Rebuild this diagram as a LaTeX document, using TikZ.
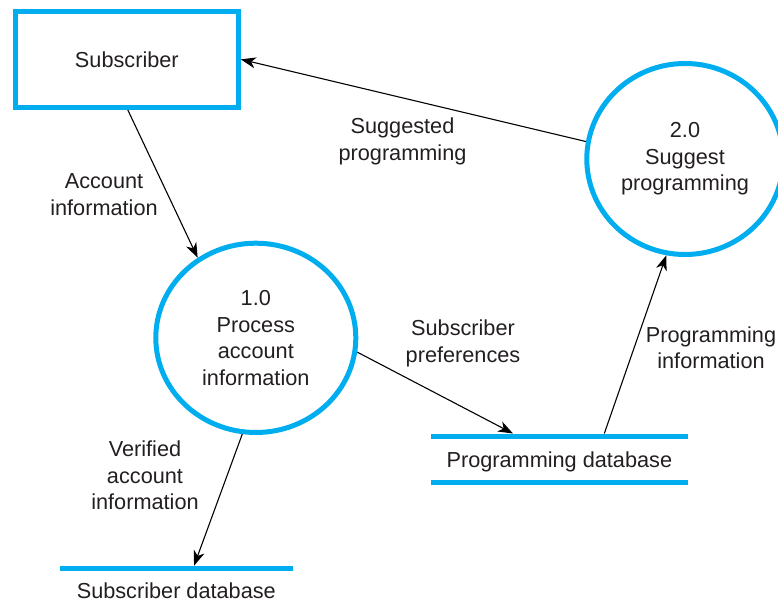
\documentclass[tikz,border=0pt]{standalone}
\usepackage{fontspec}
\setmainfont{Liberation Sans}
\usetikzlibrary{shapes.geometric,arrows.meta}
\definecolor{dfdblue}{HTML}{00AEEF}
\definecolor{inkgray}{HTML}{231F20}
\begin{document}
\begin{tikzpicture}[x=1pt,y=1pt,
  every node/.style={text=inkgray,font=\fontsize{21.7}{26.5}\selectfont,align=center,inner sep=0pt},
  entity/.style={draw=dfdblue,line width=5pt,rectangle},
  process/.style={draw=dfdblue,line width=5pt,ellipse},
  storeline/.style={draw=dfdblue,line width=5pt},
  flow/.style={draw=black,line width=1.1pt,-{Stealth[length=15pt,width=11pt,inset=4.5pt]}}]
\useasboundingbox (0,0) rectangle (778,611);

% external entity
\node[entity,minimum width=223pt,minimum height=96.3pt] (sub) at (126.85,551.65) {Subscriber};

% processes
\node[process,minimum width=200pt,minimum height=189.3pt] (p1) at (255.8,273.15)
  {1.0\\Process\\account\\information};
\node[process,minimum width=196.4pt,minimum height=191pt] (p2) at (685,452)
  {2.0\\Suggest\\programming};

% data stores
\node[minimum width=256.7pt,minimum height=51.3pt,outer sep=0pt] (pdb) at (559.35,151.85)
  {\raisebox{-8.1pt}[0pt][0pt]{Programming database}};
\draw[storeline] ([yshift=-2.5pt]pdb.north west) -- ([yshift=-2.5pt]pdb.north east);
\draw[storeline] ([yshift=2.5pt]pdb.south west) -- ([yshift=2.5pt]pdb.south east);

\node[minimum width=232.7pt,minimum height=49.8pt,outer sep=0pt] (sdb) at (176.3,20.3)
  {Subscriber database};
\draw[storeline] ([yshift=-2.5pt]sdb.north west) -- ([yshift=-2.5pt]sdb.north east);

% data flows
\draw[flow] ([xshift=1pt]sub.south) -- (p1.126);
\draw[flow] (p2.170) -- (sub.east);
\draw[flow] (p1.-8) -- ([xshift=82pt]pdb.north west);
\draw[flow] (p1.-98) -- ([xshift=17.7pt]sdb.north);
\draw[flow] ([xshift=173.3pt]pdb.north west) -- (p2.-101);

% flow labels
\node (lacc)  at (104,416.5)   {Account\\information};
\node (lsug)  at (402.5,469.5) {Suggested\\programming};
\node (lpref) at (463,267.7)   {Subscriber\\preferences};
\node (lprog) at (711,263.5)   {Programming\\information};
\node (lver)  at (145,135.5)   {Verified\\account\\information};
\end{tikzpicture}
\end{document}
